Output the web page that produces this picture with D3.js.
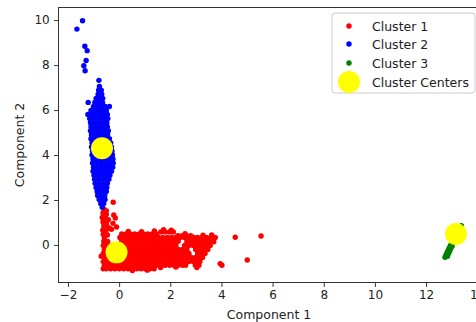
<!DOCTYPE html>
<html>
<head>
<meta charset="utf-8">
<script src="https://cdn.jsdelivr.net/npm/d3@7"></script>
<style>
  body { margin: 0; background: #fff; }
  text { font-family: "DejaVu Sans", sans-serif; fill: #222; }
</style>
</head>
<body>
<script>
// tick values
var xTicks = [-2, 0, 2, 4, 6, 8, 10, 12, 14];
var yTicks = [0, 2, 4, 6, 8, 10];

// cluster 1 (red): rows of [y, [x values]] plus loose points
var cluster1Rows = [
  [0.49, [0.1, 0.27, 0.44, 0.61, 0.78, 0.95, 1.12, 1.29, 1.46]],
  [0.58, [1.63, 1.8, 1.97, 2.12]],
  [0.41, [2.3, 2.47, 2.64, 2.8]],
  [0.33, [0.03, 0.18, 0.35, 0.52, 0.69, 0.86, 1.03, 1.2, 1.37, 1.54, 1.71, 1.88, 2.05, 2.22, 2.39, 2.56, 2.73, 2.92, 3.07, 3.24, 3.41, 3.58, 3.76]],
  [0.16, [-0.6, -0.45, 0.1, 0.27, 0.44, 0.61, 0.78, 0.95, 1.12, 1.29, 1.46, 1.63, 1.8, 1.97, 2.14, 2.31, 2.65, 2.82, 2.99, 3.16, 3.33, 3.5, 3.67]],
  [-0.02, [-0.62, -0.5, -0.33, -0.16, 0.01, 0.18, 0.35, 0.52, 0.69, 0.86, 1.03, 1.2, 1.37, 1.54, 1.71, 1.88, 2.05, 2.22, 2.56, 2.73, 2.9, 3.07, 3.24, 3.41, 3.56]],
  [-0.2, [-0.58, -0.41, -0.24, -0.07, 0.1, 0.27, 0.44, 0.61, 0.78, 0.95, 1.12, 1.29, 1.46, 1.63, 1.8, 1.97, 2.14, 2.31, 2.48, 2.65, 2.99, 3.16, 3.33, 3.47]],
  [-0.38, [-0.62, -0.5, -0.33, -0.16, 0.01, 0.18, 0.35, 0.52, 0.69, 0.86, 1.03, 1.2, 1.37, 1.54, 1.71, 1.88, 2.05, 2.22, 2.39, 2.56, 2.73, 3.07, 3.24, 3.36]],
  [-0.56, [-0.58, -0.41, -0.24, -0.07, 0.1, 0.27, 0.44, 0.61, 0.78, 0.95, 1.12, 1.29, 1.46, 1.63, 1.8, 1.97, 2.14, 2.31, 2.48, 2.65, 2.82, 2.99, 3.16, 3.26]],
  [-0.74, [-0.62, -0.5, -0.33, -0.16, 0.01, 0.18, 0.35, 0.52, 0.69, 0.86, 1.03, 1.2, 1.37, 1.54, 1.71, 1.88, 2.05, 2.22, 2.39, 2.56, 2.73, 2.9, 3.07, 3.16]],
  [-0.9, [-0.58, -0.41, -0.24, -0.07, 0.1, 0.27, 0.44, 0.61, 0.78, 0.95, 1.12, 1.29, 1.46, 1.63, 1.8, 1.97, 2.14, 2.31, 2.48, 2.6, 2.98, 3.12]],
  [-1.06, [-0.62, -0.5, -0.33, -0.16, 0.01, 0.18, 0.35, 0.52, 0.69, 0.86, 1.03, 1.2, 1.37]]
];
var cluster1Loose = [
  [-0.6, 1.6], [-0.5, 1.52], [-0.63, 1.42], [-0.5, 1.36], [-0.66, 1.22], [-0.53, 1.2],
  [-0.42, 1.12], [-0.63, 1.02], [-0.5, 0.98], [-0.6, 0.84], [-0.47, 0.82], [-0.38, 0.74],
  [-0.64, 0.66], [-0.52, 0.6], [-0.62, 0.48], [-0.46, 0.44], [-0.58, 0.32],
  [-0.23, 1.9], [-0.21, 1.33], [-0.15, 1.2], [-0.24, 0.96], [-0.1, 0.8], [-0.3, 0.7],
  [0.36, 0.6], [0.88, 0.59], [1.38, 0.62], [1.74, 0.68], [2.04, 0.66], [2.58, 0.5],
  [3.28, 0.43], [3.62, 0.45], [0.52, -1.14], [1.1, -1.12], [1.62, -1.0], [2.22, -0.98],
  [3.04, -1.0], [3.7, 0.14], [-0.7, -0.5],
  [4.54, 0.34], [5.55, 0.4], [3.95, -0.83], [4.02, -0.9], [5.01, -0.67]
];

// cluster 2 (blue)
var cluster2Rows = [
  [7.05, [-0.77]],
  [6.88, [-0.8, -0.7]],
  [6.7, [-0.82, -0.68]],
  [6.52, [-0.9, -0.76, -0.64]],
  [6.34, [-1.21, -0.95, -0.8, -0.65]],
  [6.16, [-1.0, -0.85, -0.7, -0.55, -0.38]],
  [5.98, [-1.1, -0.95, -0.8, -0.65, -0.5]],
  [5.8, [-1.22, -1.06, -0.9, -0.75, -0.6, -0.46]],
  [5.62, [-1.15, -1.0, -0.84, -0.68, -0.53, -0.44]],
  [5.44, [-1.12, -0.96, -0.8, -0.64, -0.48]],
  [5.26, [-1.1, -0.94, -0.78, -0.62, -0.46]],
  [5.08, [-1.12, -0.98, -0.82, -0.66, -0.5, -0.42]],
  [4.9, [-1.08, -0.92, -0.76, -0.6, -0.45]],
  [4.72, [-1.1, -0.95, -0.8, -0.64, -0.48, -0.38]],
  [4.54, [-1.06, -0.9, -0.74, -0.58, -0.42, -0.33]],
  [4.36, [-1.08, -0.93, -0.78, -0.62, -0.46, -0.3]],
  [4.18, [-1.04, -0.88, -0.72, -0.56, -0.4, -0.28]],
  [4.0, [-1.06, -0.9, -0.74, -0.58, -0.42, -0.26]],
  [3.82, [-1.02, -0.86, -0.7, -0.54, -0.38, -0.24]],
  [3.64, [-1.04, -0.88, -0.72, -0.56, -0.4, -0.23]],
  [3.46, [-1.0, -0.84, -0.68, -0.52, -0.36, -0.25]],
  [3.28, [-1.02, -0.86, -0.7, -0.54, -0.38, -0.3]],
  [3.1, [-0.98, -0.82, -0.66, -0.5, -0.36]],
  [2.92, [-0.96, -0.8, -0.64, -0.48, -0.4]],
  [2.74, [-0.94, -0.78, -0.62, -0.46]],
  [2.56, [-0.9, -0.75, -0.6, -0.48]],
  [2.38, [-0.86, -0.72, -0.58, -0.5]],
  [2.2, [-0.84, -0.7, -0.56]],
  [2.02, [-0.78, -0.65, -0.55]],
  [1.84, [-0.72, -0.6]],
  [1.68, [-0.66]]
];
var cluster2Loose = [
  [-1.43, 9.97], [-1.65, 9.6], [-1.34, 8.84], [-1.25, 8.64], [-1.29, 8.2],
  [-1.38, 7.97], [-1.33, 7.75], [-0.79, 7.32]
];

// cluster 3 (green)
var cluster3 = [
  [12.74, -0.55], [12.78, -0.45], [12.84, -0.5], [12.82, -0.35], [12.88, -0.38],
  [12.86, -0.24], [12.93, -0.27], [12.9, -0.14], [12.97, -0.15], [12.95, -0.03],
  [13.02, -0.05], [13.0, 0.07], [13.06, 0.1], [13.05, 0.2], [13.1, 0.26],
  [13.12, 0.35], [13.18, 0.42], [13.2, 0.52], [13.27, 0.6], [13.3, 0.7],
  [13.36, 0.78], [13.38, 0.86]
];

// cluster centers
var centers = [[-0.1, -0.33], [-0.67, 4.3], [13.17, 0.49]];

var legendLabels = ["Cluster 1", "Cluster 2", "Cluster 3", "Cluster Centers"];
var legendColors = ["red", "blue", "green", "yellow"];

function flatRows(rows) {
  return rows.flatMap(function(r) { return r[1].map(function(x) { return [x, r[0]]; }); });
}
var cluster1 = flatRows(cluster1Rows).concat(cluster1Loose);
var cluster2 = flatRows(cluster2Rows).concat(cluster2Loose);

var W = 476, H = 322;
var margin = {top: 7.5, left: 58.5};
var plotW = 421, plotH = 275;

var svg = d3.select("body").append("svg")
  .attr("width", W)
  .attr("height", H);

var x = d3.scaleLinear().domain([-2.37, 14.09]).range([margin.left, margin.left + plotW]);
var y = d3.scaleLinear().domain([-1.67, 10.56]).range([margin.top + plotH, margin.top]);

svg.append("clipPath").attr("id", "clip")
  .append("rect")
  .attr("x", margin.left).attr("y", margin.top)
  .attr("width", plotW).attr("height", plotH);

var plot = svg.append("g").attr("clip-path", "url(#clip)");

function drawPoints(data, color, r) {
  plot.append("g").selectAll("circle")
    .data(data)
    .enter().append("circle")
    .attr("cx", function(d) { return x(d[0]); })
    .attr("cy", function(d) { return y(d[1]); })
    .attr("r", r)
    .attr("fill", color);
}
drawPoints(cluster1, "red", 2.7);
drawPoints(cluster2, "blue", 2.7);
drawPoints(cluster3, "green", 2.7);
drawPoints(centers, "yellow", 11);

// axes
var fmt = function(d) { return d < 0 ? "\u2212" + Math.abs(d) : d; };
var xAxis = svg.append("g")
  .attr("transform", "translate(0," + (margin.top + plotH) + ")")
  .call(d3.axisBottom(x).tickValues(xTicks).tickSize(4.4).tickPadding(4).tickFormat(fmt));
var yAxis = svg.append("g")
  .attr("transform", "translate(" + margin.left + ",0)")
  .call(d3.axisLeft(y).tickValues(yTicks).tickSize(4.4).tickPadding(4.4).tickFormat(fmt));
[xAxis, yAxis].forEach(function(a) {
  a.select(".domain").remove();
  a.selectAll("line").attr("stroke", "#333");
  a.selectAll("text").attr("font-size", 12).attr("font-family", "DejaVu Sans").attr("fill", "#222");
});

// spines
svg.append("rect")
  .attr("x", margin.left).attr("y", margin.top)
  .attr("width", plotW).attr("height", plotH)
  .attr("fill", "none").attr("stroke", "#333").attr("stroke-width", 1);

// axis labels
svg.append("text")
  .attr("x", margin.left + plotW / 2).attr("y", 319)
  .attr("text-anchor", "middle").attr("font-size", 12.5)
  .text("Component 1");
svg.append("text")
  .attr("transform", "translate(24," + (margin.top + plotH / 2) + ") rotate(-90)")
  .attr("text-anchor", "middle").attr("font-size", 12.5)
  .text("Component 2");

// legend
var lg = svg.append("g");
lg.append("rect")
  .attr("x", 332).attr("y", 13).attr("width", 143).attr("height", 80).attr("rx", 3)
  .attr("fill", "#fff").attr("fill-opacity", 0.8)
  .attr("stroke", "#ccc").attr("stroke-width", 1);
var rowY = [26, 44, 63, 82];
legendLabels.forEach(function(label, i) {
  lg.append("circle")
    .attr("cx", 349).attr("cy", rowY[i])
    .attr("r", i === 3 ? 11 : 2.7)
    .attr("fill", legendColors[i]);
  lg.append("text")
    .attr("x", 372).attr("y", rowY[i]).attr("dy", "0.36em")
    .attr("font-size", 12.5)
    .text(label);
});
</script>
</body>
</html>
